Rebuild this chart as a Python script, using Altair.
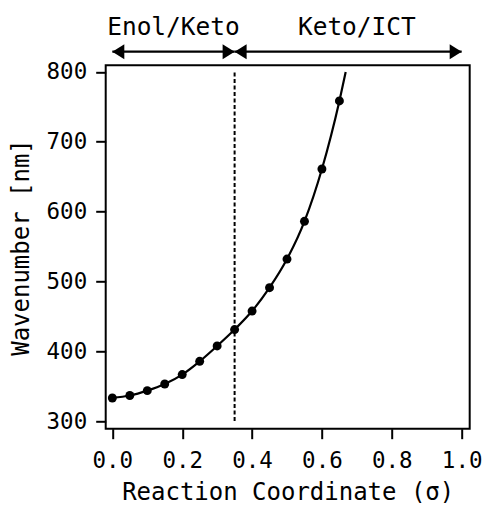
import altair as alt
import pandas as pd

FONT = "DejaVu Sans Mono"

# data
sigma = [0.0, 0.05, 0.10, 0.15, 0.20, 0.25, 0.30, 0.35, 0.40, 0.45, 0.50, 0.55, 0.60, 0.65]
wave = [333, 336.5, 343.5, 353, 366.5, 385.5, 407.5, 431, 457.5, 491, 532, 586, 661, 758.5]
curve_end_sigma = [0.668]
curve_end_wave = [800]
boundary_sigma = [0.35]
boundary_wave = [300, 800]
region_labels = ["Enol/Keto", "Keto/ICT"]
region_start = [0.0, 0.35]
region_end = [0.35, 1.0]
region_label_pos = [0.175, 0.70]
x_ticks = [0.0, 0.2, 0.4, 0.6, 0.8, 1.0]
y_ticks = [300, 400, 500, 600, 700, 800]

pts = pd.DataFrame({"s": sigma, "w": wave})
curve = pd.DataFrame({"s": sigma + curve_end_sigma, "w": wave + curve_end_wave})
vline = pd.DataFrame({"s": boundary_sigma * 2, "w": boundary_wave})
regions = pd.DataFrame({"label": region_labels, "a": region_start, "b": region_end,
                        "c": region_label_pos})

xs = alt.Scale(domain=[-0.019, 1.023], nice=False, zero=False)
ys = alt.Scale(domain=[289, 809.5], nice=False, zero=False)

xax = alt.Axis(values=x_ticks, format=".1f", title="Reaction Coordinate (σ)",
               grid=False, domain=False, tickSize=10, tickWidth=2, tickColor="black",
               labelFontSize=22.5, titleFontSize=24, labelPadding=11, titlePadding=8,
               labelFont=FONT, titleFont=FONT, labelColor="black", titleColor="black",
               titleFontWeight="normal", labelFlush=False)
yax = alt.Axis(values=y_ticks, format="d", title="Wavenumber [nm]",
               grid=False, domain=False, tickSize=10, tickWidth=2, tickColor="black",
               labelFontSize=22.5, titleFontSize=24, labelPadding=9, titlePadding=13,
               labelFont=FONT, titleFont=FONT, labelColor="black", titleColor="black",
               titleFontWeight="normal", labelFlush=False)

line = alt.Chart(curve).mark_line(color="black", strokeWidth=2.2, interpolate="monotone").encode(
    x=alt.X("s:Q", scale=xs, axis=xax), y=alt.Y("w:Q", scale=ys, axis=yax))
points = alt.Chart(pts).mark_point(filled=True, color="black", size=80, opacity=1).encode(
    x=alt.X("s:Q", scale=xs), y=alt.Y("w:Q", scale=ys))
dash = alt.Chart(vline).mark_line(color="black", strokeWidth=2, strokeDash=[4, 2.5]).encode(
    x=alt.X("s:Q", scale=xs), y=alt.Y("w:Q", scale=ys))

ARROW_Y = -13.6
shaft = alt.Chart(regions).mark_rule(color="black", strokeWidth=2.2).encode(
    x=alt.X("a:Q", scale=xs), x2="b:Q", y=alt.value(ARROW_Y))
head_left = alt.Chart(regions).mark_point(
    shape="M0,0 L0.8,-0.5 L0.8,0.5 Z", filled=True, color="black", size=900, opacity=1,
    strokeWidth=0
).encode(x=alt.X("a:Q", scale=xs), y=alt.value(ARROW_Y))
head_right = alt.Chart(regions).mark_point(
    shape="M0,0 L-0.8,-0.5 L-0.8,0.5 Z", filled=True, color="black", size=900, opacity=1,
    strokeWidth=0
).encode(x=alt.X("b:Q", scale=xs), y=alt.value(ARROW_Y))
labels = alt.Chart(regions).mark_text(font=FONT, fontSize=24.5, color="black",
                                      baseline="alphabetic", align="center").encode(
    x=alt.X("c:Q", scale=xs), y=alt.value(-30), text="label:N")

chart = alt.layer(line, dash, points, shaft, head_left, head_right, labels).properties(
    width=364, height=363.4,
    autosize=alt.AutoSizeParams(type="none"),
    padding={"left": 97.7, "top": 57.3, "right": 12.3, "bottom": 76},
).configure_view(stroke="black", strokeWidth=2)

chart.save("out.html", embed_options={"renderer": "svg", "actions": False})
